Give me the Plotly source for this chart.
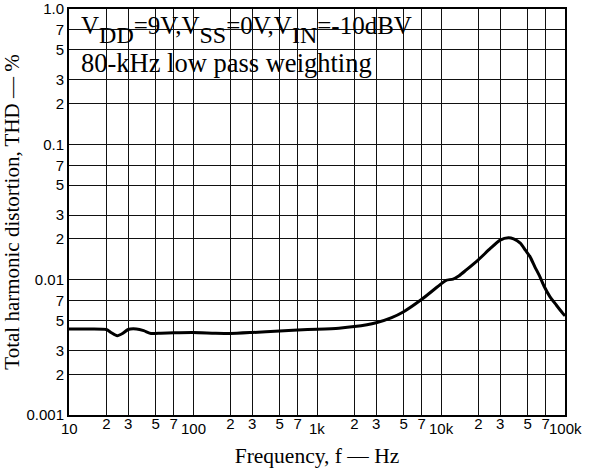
import math
import plotly.graph_objects as go

# ---- data ----
freq_hz = [10, 15, 20, 22, 24.5, 27, 30, 35, 40, 46, 55, 70, 100, 150, 200, 300, 500, 700,
           1000, 1500, 2000, 3000, 4000, 5000, 7000, 10000, 11000, 12500, 14000, 16000,
           20000, 25000, 30000, 35000, 38500, 43600, 48000, 52200, 57000, 62800, 68000,
           75500, 85000, 96000, 100000]
thd_pct = [0.00432, 0.00432, 0.00428, 0.00405, 0.00385, 0.00400, 0.00428, 0.00432, 0.00420,
           0.00400, 0.00402, 0.00405, 0.00407, 0.00402, 0.00400, 0.00407, 0.00418, 0.00425,
           0.00430, 0.00438, 0.00450, 0.00481, 0.00525, 0.00580, 0.00716, 0.00930, 0.00990,
           0.01010, 0.01070, 0.01180, 0.01400, 0.01700, 0.01960, 0.02040, 0.02000, 0.01860,
           0.01650, 0.01480, 0.01250, 0.01050, 0.00890, 0.00750, 0.00650, 0.00564, 0.00540]

x_minor_vals = [20, 30, 50, 70, 200, 300, 500, 700, 2000, 3000, 5000, 7000,
                20000, 30000, 50000, 70000]
x_minor_text = ["2", "3", "5", "7"] * 4
x_decade_vals = [10, 100, 1000, 10000, 100000]
x_decade_text = ["10", "100", "1k", "10k", "100k"]

y_tick_vals = [0.001, 0.002, 0.003, 0.005, 0.007, 0.01, 0.02, 0.03, 0.05, 0.07,
               0.1, 0.2, 0.3, 0.5, 0.7, 1.0]
y_tick_text = ["0.001", "2", "3", "5", "7", "0.01", "2", "3", "5", "7",
               "0.1", "2", "3", "5", "7", "1.0"]

SUB = "<sub><sub><span style='font-size:24px'>{}</span></sub></sub>"
title_line1 = ("V" + SUB.format("DD") + "=9V,V" + SUB.format("SS") + "=0V,V"
               + SUB.format("IN") + "=-10dBV")
title_line2 = "80-kHz low pass weighting"

SANS = "Liberation Sans, Arial, sans-serif"
SERIF = "Liberation Serif, Times New Roman, serif"

W, H = 597, 468
L, T, R, B = 69, 9, 597 - 565, 468 - 415
PH = H - T - B

fig = go.Figure()
fig.add_trace(go.Scatter(x=freq_hz, y=thd_pct, mode="lines",
                         line=dict(color="black", width=3, shape="spline", smoothing=0.6),
                         showlegend=False, hoverinfo="skip"))

# white text box covering the grid in the upper-left
fig.add_shape(type="rect", xref="x", yref="y",
              x0=math.log10(10), x1=math.log10(6280),
              y0=math.log10(0.224), y1=0,
              fillcolor="white", line=dict(width=0), layer="above")

fig.add_annotation(text=title_line1, xref="paper", yref="paper", x=10 / 496, y=1 - 21 / PH,
                   xanchor="left", yanchor="middle", showarrow=False,
                   font=dict(family=SERIF, size=25, color="black"))
fig.add_annotation(text=title_line2, xref="paper", yref="paper", x=10 / 496, y=1 - 54 / PH,
                   xanchor="left", yanchor="middle", showarrow=False,
                   font=dict(family=SERIF, size=26.5, color="black"))

for v, t in zip(x_decade_vals, x_decade_text):
    fig.add_annotation(text=t, xref="x", yref="paper", x=math.log10(v), y=0,
                       xanchor="center", yanchor="top", yshift=-3, showarrow=False,
                       font=dict(family=SANS, size=15, color="black"))

grid = dict(showgrid=True, gridcolor="#111111", gridwidth=1.4, zeroline=False,
            showline=True, linecolor="black", linewidth=2, mirror=True, ticks="")

fig.update_xaxes(type="log", range=[1, 5], tickmode="array",
                 tickvals=x_minor_vals + x_decade_vals,
                 ticktext=x_minor_text + [""] * len(x_decade_vals),
                 tickfont=dict(family=SANS, size=15, color="black"),
                 ticklabelstandoff=-6,
                 title=dict(text="Frequency, f — Hz", font=dict(family=SERIF, size=21.5, color="black"),
                            standoff=17),
                 **grid)
fig.update_yaxes(type="log", range=[-3, 0], tickmode="array",
                 tickvals=y_tick_vals, ticktext=y_tick_text,
                 tickfont=dict(family=SANS, size=15, color="black"),
                 ticklabelstandoff=0,
                 title=dict(text="Total harmonic distortion, THD — %",
                            font=dict(family=SERIF, size=21, color="black"), standoff=14),
                 **grid)

fig.update_layout(width=W, height=H, margin=dict(l=L, r=R, t=T, b=B, autoexpand=False),
                  plot_bgcolor="white", paper_bgcolor="white")

# remove the browser's default body margin so the figure fills the window exactly
fig.write_html("out.html", config={"displayModeBar": False},
               post_script="document.body.style.margin='0';document.body.style.overflow='hidden';")
